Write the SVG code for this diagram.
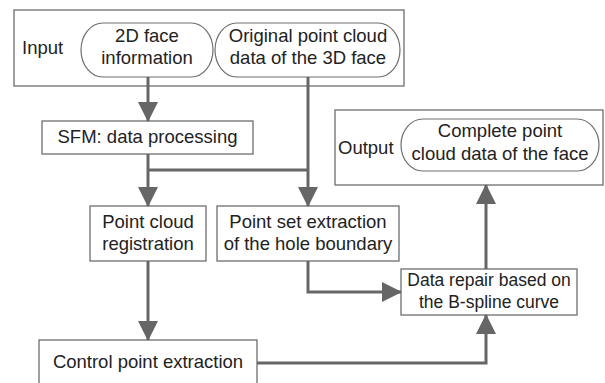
<svg xmlns="http://www.w3.org/2000/svg" width="605" height="383" viewBox="0 0 605 383">
<style>
.box{fill:#fff;stroke:#6e6e6e;stroke-width:1.3}
.term{fill:#fff;stroke:#6e6e6e;stroke-width:1.2}
text{font-family:"Liberation Sans",Arial,sans-serif;font-size:18.5px;fill:#222}
.c{text-anchor:middle}
.s{font-size:17.5px}
.conn{fill:none;stroke:#666;stroke-width:3}
</style>
<defs>
<marker id="ah" viewBox="0 0 20 20" refX="19" refY="10" markerWidth="20" markerHeight="20" markerUnits="userSpaceOnUse" orient="auto">
<path d="M0,0 L20,10 L0,20 Z" fill="#666"/>
</marker>
</defs>
<rect width="605" height="383" fill="#fff"/>
<g id="input">
<rect class="box" x="14" y="10" width="390" height="76"/>
<text x="22" y="54">Input</text>
</g>
<g id="face2d">
<rect class="term" x="81" y="23" width="132" height="54" rx="22" ry="27"/>
<text class="c" x="147" y="42">2D face</text>
<text class="c" x="147" y="64">information</text>
</g>
<g id="cloud3d">
<rect class="term" x="215" y="23" width="185" height="54" rx="22" ry="27"/>
<text class="c" x="308" y="42">Original point cloud</text>
<text class="c" x="308" y="64">data of the 3D face</text>
</g>
<g id="sfm">
<rect class="box" x="42" y="121" width="211" height="33"/>
<text class="c" x="147.5" y="143">SFM: data processing</text>
</g>
<g id="registration">
<rect class="box" x="90" y="206" width="116" height="55"/>
<text class="c" x="148" y="228">Point cloud</text>
<text class="c" x="148" y="250">registration</text>
</g>
<g id="holeboundary">
<rect class="box" x="217" y="206" width="182" height="55"/>
<text class="c" x="308" y="228">Point set extraction</text>
<text class="c" x="308" y="250">of the hole boundary</text>
</g>
<g id="control">
<rect class="box" x="39" y="340" width="218" height="50"/>
<text class="c" x="148" y="368">Control point extraction</text>
</g>
<g id="repair">
<rect class="box" x="401" y="269" width="176" height="46"/>
<text class="c s" x="489" y="286">Data repair based on</text>
<text class="c s" x="489" y="308">the B-spline curve</text>
</g>
<g id="output">
<rect class="box" x="335" y="110" width="268" height="75"/>
<text x="338" y="154">Output</text>
<rect class="term" x="401" y="119" width="198" height="52" rx="22" ry="26"/>
<text class="c" x="500" y="137">Complete point</text>
<text class="c" x="500" y="160">cloud data of the face</text>
</g>
<g id="connectors">
<path class="conn" d="M148,77 V121" marker-end="url(#ah)"/>
<path class="conn" d="M148,154 V206" marker-end="url(#ah)"/>
<path class="conn" d="M148,170 H308"/>
<path class="conn" d="M308,77 V206" marker-end="url(#ah)"/>
<path class="conn" d="M148,261 V340" marker-end="url(#ah)"/>
<path class="conn" d="M308,261 V292 H401" marker-end="url(#ah)"/>
<path class="conn" d="M257,363 H486 V315" marker-end="url(#ah)"/>
<path class="conn" d="M486,269 V185" marker-end="url(#ah)"/>
</g>
</svg>
